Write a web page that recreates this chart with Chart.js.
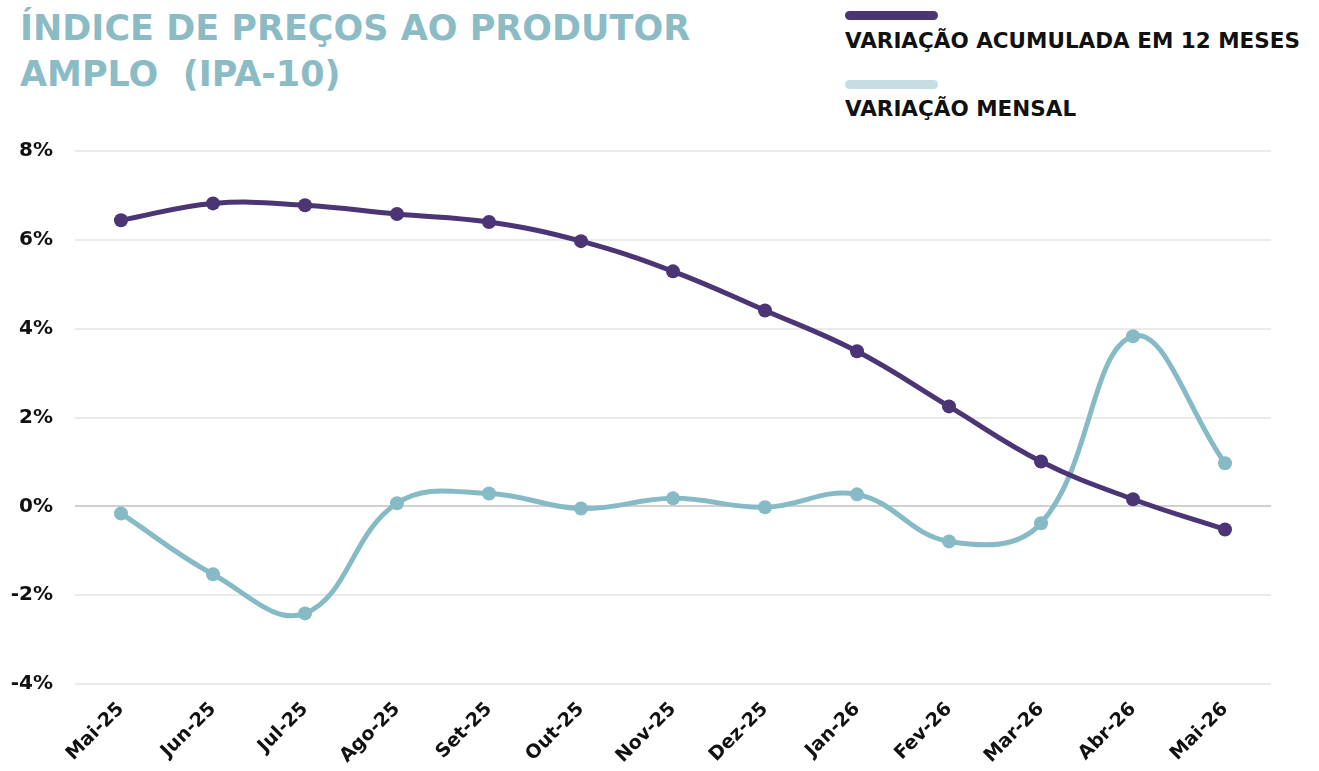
<!DOCTYPE html>
<html><head><meta charset="utf-8">
<script src="https://cdn.jsdelivr.net/npm/chart.js"></script>
<style>
html,body{margin:0;padding:0;background:#fff;}
#wrap{position:relative;width:1319px;height:771px;overflow:hidden;}
#title{position:absolute;left:20px;top:5px;font-family:"DejaVu Sans",sans-serif;font-weight:700;font-size:35px;line-height:46px;color:#8BBCC6;letter-spacing:0px;}
.leg{position:absolute;left:845px;font-family:"DejaVu Sans",sans-serif;font-weight:700;font-size:21.5px;color:#111;letter-spacing:0px;}
.bar{position:absolute;left:845px;width:93px;height:9px;border-radius:5px;}
canvas{position:absolute;left:0;top:0;}
</style></head>
<body><div id="wrap">
<div id="title">ÍNDICE DE PREÇOS AO PRODUTOR<br>AMPLO&nbsp; (IPA-10)</div>
<div class="bar" style="top:11px;background:#4B3575"></div>
<div class="leg" style="top:28px">VARIAÇÃO ACUMULADA EM 12 MESES</div>
<div class="bar" style="top:80px;background:#C5DEE3"></div>
<div class="leg" style="top:96px">VARIAÇÃO MENSAL</div>
<canvas id="c" width="1319" height="771"></canvas>
</div>
<script>
const categories = ["Mai-25","Jun-25","Jul-25","Ago-25","Set-25","Out-25","Nov-25","Dez-25","Jan-26","Fev-26","Mar-26","Abr-26","Mai-26"];
const acumulada12m = [6.44,6.82,6.78,6.58,6.40,5.97,5.29,4.41,3.49,2.25,1.01,0.16,-0.52];
const mensal = [-0.16,-1.53,-2.41,0.07,0.29,-0.05,0.18,-0.02,0.27,-0.79,-0.38,3.83,0.97];
const seriesNames = ["VARIAÇÃO ACUMULADA EM 12 MESES","VARIAÇÃO MENSAL"];

new Chart(document.getElementById('c'), {
  type: 'line',
  data: {
    labels: categories,
    datasets: [
      {label: seriesNames[0], data: acumulada12m, borderColor:'#4B3575', backgroundColor:'#4B3575', borderWidth:5, pointRadius:7, pointBorderWidth:0, pointHoverRadius:7, tension:0.4, order:1},
      {label: seriesNames[1], data: mensal, borderColor:'#86BBC6', backgroundColor:'#86BBC6', borderWidth:5, pointRadius:7, pointBorderWidth:0, pointHoverRadius:7, tension:0.4, order:2}
    ]
  },
  options: {
    responsive:false, animation:false,
    layout:{padding:{top:151,right:48,left:0,bottom:0}},
    plugins:{legend:{display:false}, tooltip:{enabled:false}},
    scales:{
      x:{
        offset:true,
        grid:{display:false},
        border:{display:false},
        ticks:{minRotation:45,maxRotation:45,padding:6,color:'#111',font:{family:'"DejaVu Sans", sans-serif',weight:'bold',size:19}},
        afterFit(s){s.height=87;}
      },
      y:{
        min:-4,max:8,
        border:{display:false},
        grid:{drawTicks:false,lineWidth:2,color(ctx){return ctx.tick && ctx.tick.value===0 ? '#d0d0d0' : '#ebebeb';}},
        ticks:{stepSize:2,padding:22,color:'#111',font:{family:'"DejaVu Sans", sans-serif',weight:'bold',size:20},callback:v=>v+'%'},
        afterFit(s){s.width=75;}
      }
    }
  }
});
</script>
</body></html>
